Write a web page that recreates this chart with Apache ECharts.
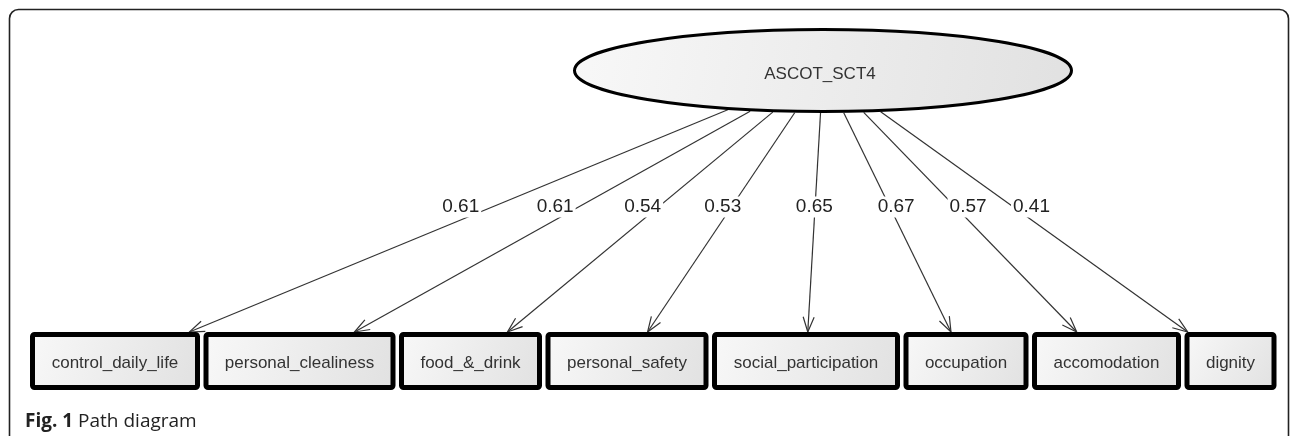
<!DOCTYPE html>
<html>
<head>
<meta charset="utf-8">
<title>Path diagram</title>
<script src="https://cdn.jsdelivr.net/npm/echarts@6/dist/echarts.min.js"></script>
<style>
  html, body { margin: 0; padding: 0; background: #fff; }
  #main { width: 1292px; height: 436px; }
</style>
</head>
<body>
<div id="main"></div>
<script>
  // latent factor, its indicators and the standardised loadings
  var latent = 'ASCOT_SCT4';
  var indicators = ['control_daily_life', 'personal_clealiness', 'food_&_drink', 'personal_safety',
                    'social_participation', 'occupation', 'accomodation', 'dignity'];
  var loadings = [0.61, 0.61, 0.54, 0.53, 0.65, 0.67, 0.57, 0.41];

  var W = 1292, H = 436;
  var BOX_FONT = '17px "Liberation Sans", Arial, sans-serif';
  var LABEL_FONT = '19px "Liberation Sans", Arial, sans-serif';

  // diagram layout (in axis units, axes span the whole canvas)
  var L = {
    latentX: 823, latentY: 70.5, rx: 250, ry: 42.5,
    rowLeft: 30, rowTop: 332, boxH: 58, boxPad: 43, boxGap: 3.5,
    labelY: 207, pull: 0.105, labelShift: 13
  };

  // box widths follow the text, like the drawing tool does
  var ctx = document.createElement('canvas').getContext('2d');
  ctx.font = BOX_FONT;
  var boxes = [];
  var cursor = L.rowLeft;
  indicators.forEach(function (name) {
    var w = Math.round(ctx.measureText(name).width) + L.boxPad;
    boxes.push({ x: cursor, w: w });
    cursor += w + L.boxGap;
  });

  function shade() {
    return new echarts.graphic.LinearGradient(0, 0, 1, 1, [
      { offset: 0, color: '#f8f8f8' },
      { offset: 1, color: '#e1e1e1' }
    ]);
  }

  function renderIndicator(params, api) {
    var i = api.value(0);
    var b = boxes[i];
    var tl = api.coord([b.x, L.rowTop]);
    var br = api.coord([b.x + b.w, L.rowTop + L.boxH]);
    var c = api.coord([L.latentX, L.latentY]);
    var rx = Math.abs(api.size([L.rx, 0])[0]);
    var ry = Math.abs(api.size([0, L.ry])[1]);
    var bx = (tl[0] + br[0]) / 2;

    // arrow from the ellipse edge to the top of the box
    var tip = [bx + L.pull * (c[0] - bx), tl[1]];
    var dx = tip[0] - c[0], dy = tip[1] - c[1];
    var t = 1 / Math.sqrt(Math.pow(dx / rx, 2) + Math.pow(dy / ry, 2));
    var start = [c[0] + dx * t, c[1] + dy * t];
    var len = Math.sqrt(dx * dx + dy * dy);
    var ux = dx / len, uy = dy / len;
    var aL = 15, aW = 5.5;
    var back = [tip[0] - ux * aL, tip[1] - uy * aL];
    var a1 = [back[0] - uy * aW, back[1] + ux * aW];
    var a2 = [back[0] + uy * aW, back[1] - ux * aW];

    var ly = api.coord([0, L.labelY])[1];
    var lx = start[0] + dx * (ly - start[1]) / dy + L.labelShift * dx / dy;

    return {
      type: 'group',
      children: [
        { type: 'line', shape: { x1: start[0], y1: start[1], x2: tip[0], y2: tip[1] },
          style: { stroke: '#333', lineWidth: 1.2 } },
        { type: 'polyline', shape: { points: [a1, tip, a2] },
          style: { stroke: '#333', fill: null, lineWidth: 1.2 } },
        { type: 'text', style: { text: api.value(1).toFixed(2), x: lx, y: ly, align: 'center',
          verticalAlign: 'middle', font: LABEL_FONT, fill: '#222', backgroundColor: '#fff', padding: [1, 2] } },
        { type: 'rect', shape: { x: tl[0] + 2.5, y: tl[1] + 2.5, width: br[0] - tl[0] - 5, height: br[1] - tl[1] - 5, r: 2 },
          style: { fill: shade(), stroke: '#000', lineWidth: 5 } },
        { type: 'text', style: { text: indicators[i], x: bx, y: (tl[1] + br[1]) / 2 + 2, align: 'center',
          verticalAlign: 'middle', font: BOX_FONT, fill: '#333' } }
      ]
    };
  }

  function renderLatent(params, api) {
    var c = api.coord([L.latentX, L.latentY]);
    var rx = Math.abs(api.size([L.rx, 0])[0]);
    var ry = Math.abs(api.size([0, L.ry])[1]);
    return {
      type: 'group',
      children: [
        { type: 'ellipse', shape: { cx: c[0], cy: c[1], rx: rx - 1.5, ry: ry - 1.5 },
          style: { fill: shade(), stroke: '#000', lineWidth: 3 } },
        { type: 'text', style: { text: latent, x: c[0] - 3, y: c[1] + 4, align: 'center',
          verticalAlign: 'middle', font: BOX_FONT, fill: '#333' } }
      ]
    };
  }

  var myChart = echarts.init(document.getElementById('main'));

  var option = {
    animation: false,
    backgroundColor: '#fff',
    title: {
      text: '{b|Fig. 1} Path diagram',
      left: 25, top: 412, padding: 0,
      textStyle: {
        fontFamily: '"Open Sans", sans-serif', fontSize: 19, fontWeight: 'normal', color: '#222',
        rich: { b: { fontFamily: '"Open Sans", sans-serif', fontSize: 19, fontWeight: 'bold', color: '#222' } }
      }
    },
    graphic: [{
      type: 'rect', silent: true,
      shape: { x: 9.5, y: 9.5, width: 1279, height: 480, r: 9 },
      style: { fill: null, stroke: '#222', lineWidth: 1.6 }
    }],
    grid: { left: 0, right: 0, top: 0, bottom: 0 },
    xAxis: { type: 'value', min: 0, max: W, show: false },
    yAxis: { type: 'value', min: 0, max: H, inverse: true, show: false },
    series: [
      {
        type: 'custom', name: 'loadings', clip: false, silent: true,
        renderItem: renderIndicator,
        data: loadings.map(function (v, i) { return [i, v]; })
      },
      {
        type: 'custom', name: 'latent', clip: false, silent: true,
        renderItem: renderLatent,
        data: [[0]]
      }
    ]
  };

  myChart.setOption(option);
</script>
</body>
</html>
